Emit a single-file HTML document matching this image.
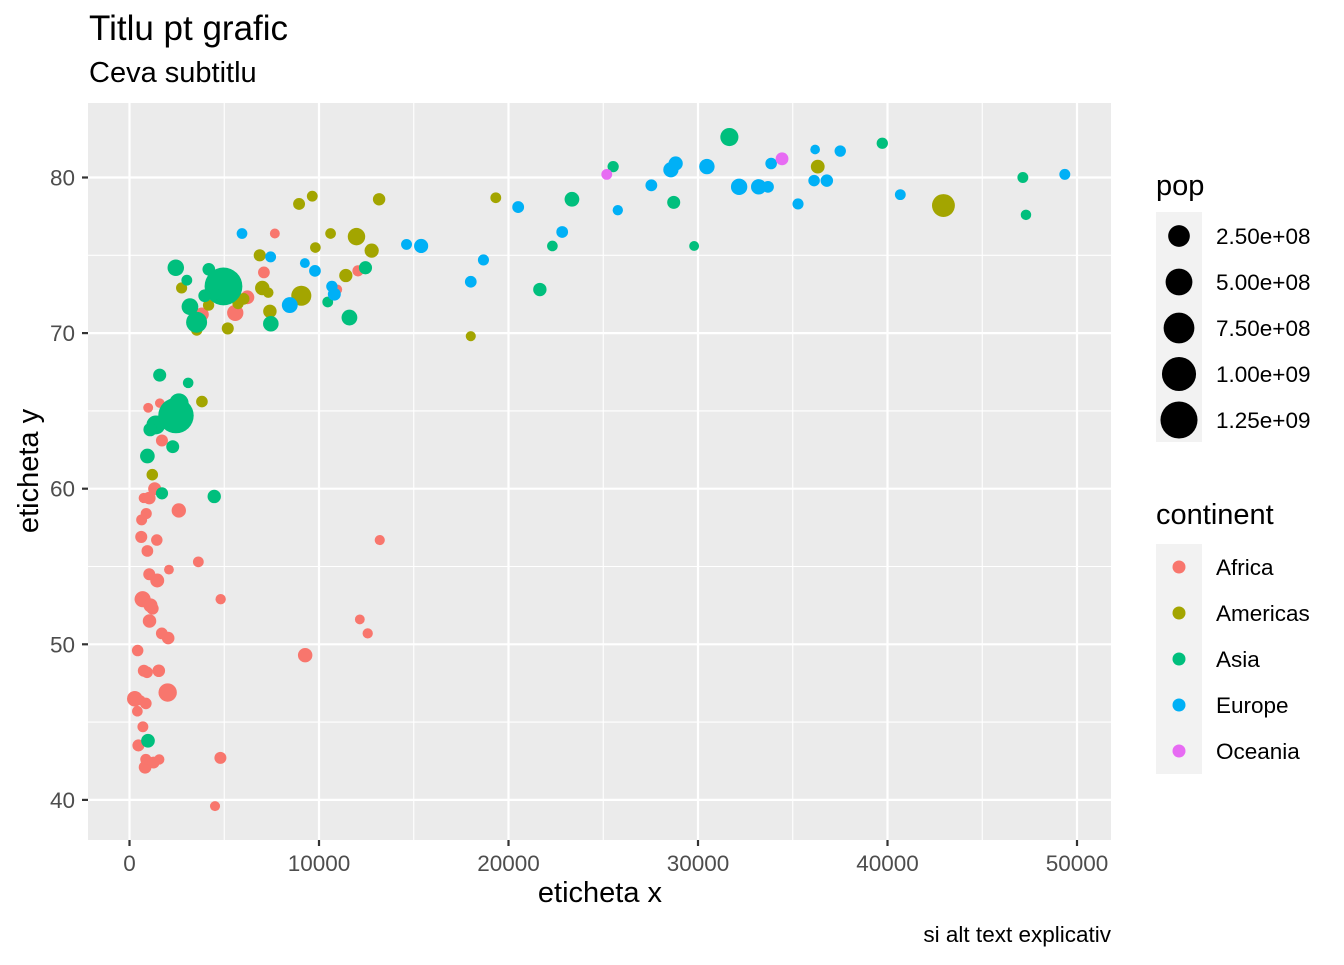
<!DOCTYPE html>
<html><head><meta charset="utf-8"><style>
body{margin:0;background:#fff;font-family:"Liberation Sans",Arial,sans-serif}
svg text{font-family:"Liberation Sans",Arial,sans-serif}
</style></head><body>
<svg id="chart" width="1344" height="960" xmlns="http://www.w3.org/2000/svg">
<text x="89" y="40" font-size="35" fill="#000">Titlu pt grafic</text>
<text x="89" y="82" font-size="29" fill="#000">Ceva subtitlu</text>
<rect x="88" y="103" width="1023" height="737" fill="#ebebeb"/>
<g id="grid"></g>
<g id="pts"></g>
<g id="axes"></g>
<text x="600" y="902" font-size="29" text-anchor="middle">eticheta x</text>
<text transform="translate(38,471) rotate(-90)" font-size="29" text-anchor="middle">eticheta y</text>
<text x="1111" y="942" font-size="22.5" text-anchor="end">si alt text explicativ</text>
<g id="legend"></g>
</svg>
<script>
const continents=["Africa","Americas","Asia","Europe","Oceania"];
const colors=["#F8766D","#A3A500","#00BF7D","#00B0F6","#E76BF3"];
const gdp=[6223,4797,1441,12570,1217,430,2042,706,1704,986,278,3633,1545,2082,5581,12154,641,691,13206,753,1328,943,579,1463,1569,415,12057,1044,759,1042,1803,10957,3820,824,4811,620,2014,7670,863,1598,1712,863,926,9270,2602,4513,1107,883,7093,1056,1271,470,
12779,3822,9066,36319,13172,7007,9645,8948,6025,6873,5728,5186,1202,3548,7321,11978,2749,9809,4173,7409,19329,18009,42952,10611,11416,
975,29796,1391,1714,4959,39725,2452,3541,11606,4471,25523,31656,4519,1593,23348,47307,10461,12452,3096,944,1091,22316,2606,3190,21655,47143,3970,4185,28718,7458,2442,3025,2281,
5937,36126,33693,7446,10681,14619,22833,35278,33207,30470,32170,27538,18009,36181,40676,28570,9254,36798,49357,15390,20510,10808,9787,18678,25768,28821,33860,37506,8458,33203,
34435,25185];
const life=[72.3,42.7,56.7,50.7,52.3,49.6,50.4,44.7,50.7,65.2,46.5,55.3,48.3,54.8,71.3,51.6,58.0,52.9,56.7,59.4,60.0,56.0,46.4,54.1,42.6,45.7,74.0,59.4,48.3,54.5,64.2,72.8,71.2,42.1,52.9,56.9,46.9,76.4,46.2,65.5,63.1,42.6,48.2,49.3,58.6,39.6,52.5,58.4,73.9,51.5,42.4,43.5,
75.3,65.6,72.4,80.7,78.6,72.9,78.8,78.3,72.2,75.0,71.9,70.3,60.9,70.2,72.6,76.2,72.9,75.5,71.8,71.4,78.7,69.8,78.2,76.4,73.7,
43.8,75.6,64.1,59.7,73.0,82.2,64.7,70.7,71.0,59.5,80.7,82.6,72.5,67.3,78.6,77.6,72.0,74.2,66.8,62.1,63.8,75.6,65.5,71.7,72.8,80.0,72.4,74.1,78.4,70.6,74.2,73.4,62.7,
76.4,79.8,79.4,74.9,73.0,75.7,76.5,78.3,79.3,80.7,79.4,79.5,73.3,81.8,78.9,80.5,74.5,79.8,80.2,75.6,78.1,72.5,74.0,74.7,77.9,80.9,80.9,81.7,71.8,79.4,
81.2,80.2];
const pop=[33.3,12.4,8.1,1.6,14.3,8.4,17.7,4.4,10.2,0.7,64.6,3.8,18.0,0.5,80.3,0.55,4.9,76.5,1.45,1.7,22.9,9.9,1.5,35.6,2.0,3.2,6.0,19.2,13.3,12.0,3.3,1.25,33.8,20.0,2.1,12.9,135,0.8,8.9,0.2,12.3,6.1,9.1,44.0,42.3,1.1,38.1,5.7,10.3,29.2,11.7,12.3,
40.3,9.1,190,33.4,16.3,44.2,4.1,11.4,9.3,13.8,6.9,12.6,8.5,7.5,2.8,108.7,5.7,3.2,6.7,28.7,3.9,1.06,301,3.4,26.1,
31.9,0.7,150,14.1,1319,6.98,1110,223.5,69.5,27.5,6.4,127.5,6.05,23.3,49.0,2.5,3.9,24.8,2.9,47.8,28.9,3.2,169,91,27.6,4.55,20.4,19.3,23.2,65.1,85.3,4.0,22.2,
3.6,8.2,10.4,4.55,7.3,4.5,10.2,5.5,5.2,61.1,82.4,10.7,9.96,0.3,4.1,58.1,0.68,16.6,4.6,38.5,10.6,22.3,10.2,5.4,2.0,40.4,9.0,7.55,71.2,60.8,
20.4,4.1];
const cont=[].concat(Array(52).fill(0),Array(25).fill(1),Array(33).fill(2),Array(30).fill(3),Array(2).fill(4));
const xTicks=[0,10000,20000,30000,40000,50000];
const yTicks=[40,50,60,70,80];
const popBreaks=[250,500,750,1000,1250];
const popLabels=["2.50e+08","5.00e+08","7.50e+08","1.00e+09","1.25e+09"];

const NS="http://www.w3.org/2000/svg";
const X=v=>129.5+v*0.01895;
const Y=v=>177.5-(v-80)*15.56;
const pmin=Math.sqrt(Math.min(...pop)),pmax=Math.sqrt(Math.max(...pop));
const R=p=>4.8+14.1*(Math.sqrt(p)-pmin)/(pmax-pmin);
function mk(tag,attrs,parent){const e=document.createElementNS(NS,tag);for(const k in attrs)e.setAttribute(k,attrs[k]);parent.appendChild(e);return e;}
const grid=document.getElementById('grid'),axes=document.getElementById('axes'),pts=document.getElementById('pts'),leg=document.getElementById('legend');
for(let v=5000;v<=50000;v+=10000){const l=mk('line',{x1:X(v),x2:X(v),y1:103,y2:840,stroke:'#fff','stroke-width':1.1},grid);

}
for(let v=45;v<=75;v+=10){const l=mk('line',{x1:88,x2:1111,y1:Y(v),y2:Y(v),stroke:'#fff','stroke-width':1.1},grid);

}
xTicks.forEach(v=>{const l=mk('line',{x1:X(v),x2:X(v),y1:103,y2:840,stroke:'#fff','stroke-width':2.2},grid);


const t=mk('line',{x1:X(v),x2:X(v),y1:840,y2:846,stroke:'#333','stroke-width':2.2},axes);


const tx=mk('text',{x:X(v),y:871,'font-size':22.5,'text-anchor':'middle',fill:'#4d4d4d'},axes);tx.textContent=v;

});
yTicks.forEach(v=>{const l=mk('line',{x1:88,x2:1111,y1:Y(v),y2:Y(v),stroke:'#fff','stroke-width':2.2},grid);


const t=mk('line',{x1:82,x2:88,y1:Y(v),y2:Y(v),stroke:'#333','stroke-width':2.2},axes);


const tx=mk('text',{x:75,y:Y(v)+8,'font-size':22.5,'text-anchor':'end',fill:'#4d4d4d'},axes);tx.textContent=v;

});
gdp.forEach((g,i)=>{const c=mk('circle',{cx:X(g),cy:Y(life[i]),r:R(pop[i]),fill:colors[cont[i]]},pts);

});
let t=mk('text',{x:1156,y:195,'font-size':29},leg);t.textContent='pop';


mk('rect',{x:1156,y:212,width:46,height:230,fill:'#f2f2f2'},leg);
popBreaks.forEach((p,i)=>{const cy=236+46*i;
const c=mk('circle',{cx:1179,cy:cy,r:R(p),fill:'#000'},leg);


const tx=mk('text',{x:1216,y:cy+8,'font-size':22.5,fill:'#000'},leg);tx.textContent=popLabels[i];

});
t=mk('text',{x:1156,y:524,'font-size':29},leg);t.textContent='continent';


mk('rect',{x:1156,y:544,width:46,height:230,fill:'#f2f2f2'},leg);
continents.forEach((n,i)=>{const cy=567+46*i;
const c=mk('circle',{cx:1179,cy:cy,r:6.5,fill:colors[i]},leg);


const tx=mk('text',{x:1216,y:cy+8,'font-size':22.5,fill:'#000'},leg);tx.textContent=n;

});
</script>
</body></html>
